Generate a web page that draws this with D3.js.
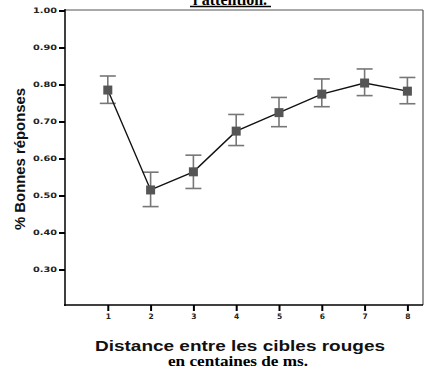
<!DOCTYPE html>
<html><head><meta charset="utf-8">
<script src="https://cdn.jsdelivr.net/npm/d3@7"></script>
<style>body{margin:0;background:#fff}svg{display:block}</style>
</head><body>
<script>
const categories = [1,2,3,4,5,6,7,8];
const means = [0.785, 0.515, 0.564, 0.674, 0.724, 0.774, 0.804, 0.782];
const upper = [0.823, 0.563, 0.609, 0.719, 0.765, 0.815, 0.842, 0.819];
const lower = [0.749, 0.470, 0.519, 0.635, 0.686, 0.740, 0.770, 0.748];
const yTicks = [0.30,0.40,0.50,0.60,0.70,0.80,0.90,1.00];
const title = "l'attention.";
const yTitle = "% Bonnes réponses";
const xTitle1 = "Distance entre les cibles rouges";
const xTitle2 = "en centaines de ms.";

(function(){
const W=424,H=369;
const svg=d3.select("body").append("svg").attr("width",W).attr("height",H);
const x=d3.scaleLinear().domain([0,9]).range([65,65+9*42.8]);
const y=d3.scaleLinear().domain([0.2,1.0]).range([306.5,10.5]);
const pL=65,pR=423,pT=10,pB=305;

// frame
svg.append("line").attr("x1",pL).attr("x2",pR).attr("y1",pT).attr("y2",pT).attr("stroke","#555").attr("stroke-width",1.2);
svg.append("line").attr("x1",pR).attr("x2",pR).attr("y1",pT).attr("y2",pB).attr("stroke","#555").attr("stroke-width",1.2);

// y axis
const ya=svg.append("g").attr("transform",`translate(${pL},0)`)
 .call(d3.axisLeft(y).tickValues(yTicks).tickFormat(d3.format(".2f")).tickSize(6).tickSizeOuter(0));
ya.select(".domain").remove();
ya.selectAll(".tick line").attr("stroke","#000").attr("stroke-width",2);
ya.selectAll(".tick text").attr("font-family","DejaVu Sans").attr("font-size",7.5).attr("font-weight","bold").attr("fill","#222").attr("x",-8).attr("textLength",24).attr("lengthAdjust","spacingAndGlyphs");
svg.append("line").attr("x1",pL).attr("x2",pL).attr("y1",pT-1).attr("y2",pB+1).attr("stroke","#000").attr("stroke-width",1.5);

// x axis
const xa=svg.append("g").attr("transform",`translate(0,${pB})`)
 .call(d3.axisBottom(x).tickValues(categories).tickFormat(d3.format("d")).tickSize(6).tickSizeOuter(0));
xa.select(".domain").remove();
xa.selectAll(".tick line").attr("stroke","#000").attr("stroke-width",2);
xa.selectAll(".tick text").attr("font-family","DejaVu Sans").attr("font-size",7.5).attr("font-weight","bold").attr("fill","#222").attr("y",9);
svg.append("line").attr("x1",pL-1).attr("x2",pR).attr("y1",pB).attr("y2",pB).attr("stroke","#000").attr("stroke-width",1.5);

// error bars
const eb=svg.append("g").attr("stroke","#777").attr("stroke-width",1.6);
categories.forEach((c,i)=>{
  eb.append("line").attr("x1",x(c)).attr("x2",x(c)).attr("y1",y(upper[i])).attr("y2",y(lower[i]));
  eb.append("line").attr("x1",x(c)-8).attr("x2",x(c)+8).attr("y1",y(upper[i])).attr("y2",y(upper[i]));
  eb.append("line").attr("x1",x(c)-8).attr("x2",x(c)+8).attr("y1",y(lower[i])).attr("y2",y(lower[i]));
});
// line
svg.append("path").datum(categories.map((c,i)=>[c,means[i]]))
 .attr("d",d3.line().x(d=>x(d[0])).y(d=>y(d[1])))
 .attr("fill","none").attr("stroke","#111").attr("stroke-width",1.4);
// markers
svg.append("g").selectAll("rect").data(categories).join("rect")
 .attr("x",d=>x(d)-4.5).attr("y",(d,i)=>y(means[i])-4.5).attr("width",9).attr("height",9).attr("fill","#555");

// title
svg.append("text").attr("x",230).attr("y",5).attr("text-anchor","middle")
 .attr("font-family","Liberation Serif").attr("font-weight","bold").attr("font-size",16).text(title);
svg.append("line").attr("x1",190).attr("x2",271).attr("y1",6.5).attr("y2",6.5).attr("stroke","#000").attr("stroke-width",1.6);

// axis titles
svg.append("text").attr("transform","translate(25,159) rotate(-90)").attr("text-anchor","middle")
 .attr("font-family","Liberation Sans").attr("font-weight","bold").attr("font-size",14)
 .attr("textLength",142).attr("lengthAdjust","spacingAndGlyphs").attr("fill","#111").text(yTitle);
svg.append("text").attr("x",240).attr("y",351).attr("text-anchor","middle")
 .attr("font-family","Liberation Sans").attr("font-weight","bold").attr("font-size",15)
 .attr("textLength",290).attr("lengthAdjust","spacingAndGlyphs").attr("fill","#111").text(xTitle1);
svg.append("text").attr("x",238).attr("y",366).attr("text-anchor","middle")
 .attr("font-family","Liberation Serif").attr("font-weight","bold").attr("font-size",14)
 .attr("textLength",140).attr("lengthAdjust","spacingAndGlyphs").attr("fill","#000").text(xTitle2);
})();
</script>
</body></html>
